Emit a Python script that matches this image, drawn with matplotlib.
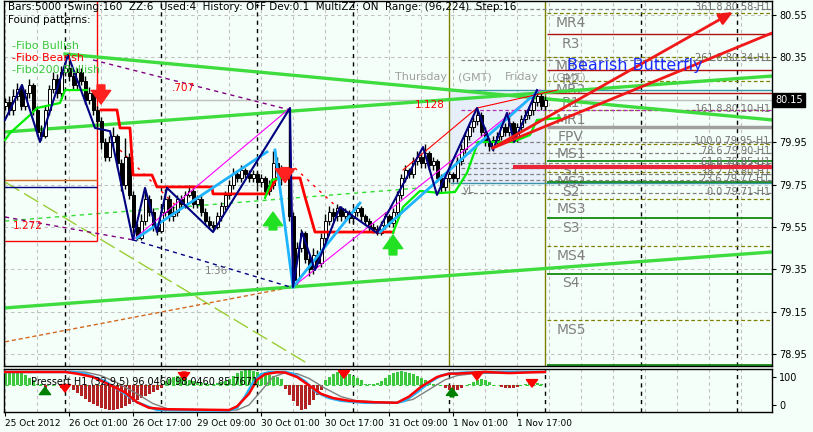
import matplotlib
matplotlib.use("Agg")
import matplotlib.pyplot as plt

# ---------------- data (H1 bars, x = bar index) ----------------
first_open = 80.12
closes = [80.14, 80.10, 80.17, 80.20, 80.12, 80.18, 80.22, 80.10, 80.00, 79.98,
          80.10, 80.20, 80.25, 80.18, 80.28, 80.30, 80.26, 80.22, 80.28, 80.24,
          80.15, 80.18, 80.10, 80.05, 79.95, 79.88, 79.95, 79.98, 79.85, 79.75,
          79.88, 79.70, 79.55, 79.50, 79.58, 79.68, 79.62, 79.55, 79.53, 79.62,
          79.68, 79.60, 79.62, 79.68, 79.66, 79.70, 79.72, 79.66, 79.68, 79.62,
          79.58, 79.56, 79.55, 79.60, 79.65, 79.70, 79.75, 79.80, 79.78, 79.82,
          79.80, 79.78, 79.80, 79.76, 79.78, 79.72, 79.75, 79.85, 79.82, 79.78,
          79.80, 79.60, 79.30, 79.45, 79.52, 79.40, 79.35, 79.42, 79.38, 79.50,
          79.58, 79.62, 79.60, 79.64, 79.60, 79.62, 79.59, 79.62, 79.64, 79.60,
          79.58, 79.55, 79.54, 79.52, 79.56, 79.60, 79.57, 79.62, 79.70, 79.78,
          79.82, 79.80, 79.86, 79.88, 79.85, 79.90, 79.84, 79.86, 79.78, 79.74,
          79.78, 79.80, 79.78, 79.86, 79.92, 79.98, 80.02, 80.05, 80.08, 80.00,
          79.95, 79.93, 79.96, 79.98, 80.02, 80.00, 80.04, 79.97, 80.02, 80.06,
          80.08, 80.10, 80.14, 80.17, 80.12, 80.15]
highs = [80.16, 80.17, 80.20, 80.23, 80.22, 80.20, 80.25, 80.23, 80.12, 80.03,
         80.12, 80.22, 80.28, 80.27, 80.31, 80.33, 80.34, 80.28, 80.30, 80.30,
         80.26, 80.21, 80.19, 80.12, 80.07, 79.97, 79.98, 80.02, 79.99, 79.87,
         79.97, 79.90, 79.72, 79.57, 79.61, 79.73, 79.70, 79.64, 79.57, 79.65,
         79.73, 79.70, 79.65, 79.70, 79.70, 79.72, 79.75, 79.74, 79.70, 79.70,
         79.64, 79.60, 79.58, 79.62, 79.67, 79.72, 79.77, 79.83, 79.82, 79.84,
         79.83, 79.82, 79.82, 79.81, 79.80, 79.79, 79.77, 79.91, 79.88, 79.84,
         79.83, 80.11, 79.62, 79.48, 79.54, 79.53, 79.42, 79.45, 79.44, 79.52,
         79.61, 79.65, 79.64, 79.66, 79.65, 79.64, 79.63, 79.64, 79.66, 79.65,
         79.61, 79.59, 79.57, 79.56, 79.58, 79.62, 79.61, 79.64, 79.72, 79.80,
         79.84, 79.83, 79.88, 79.91, 79.90, 79.94, 79.91, 79.88, 79.87, 79.80,
         79.80, 79.82, 79.81, 79.88, 79.94, 80.00, 80.04, 80.07, 80.11, 80.09,
         80.02, 79.97, 79.98, 80.00, 80.04, 80.04, 80.09, 80.05, 80.04, 80.08,
         80.10, 80.12, 80.16, 80.19, 80.18, 80.17]
lows = [80.10, 80.08, 80.08, 80.15, 80.10, 80.10, 80.16, 80.08, 79.98, 79.96,
        79.97, 80.08, 80.18, 80.16, 80.16, 80.26, 80.24, 80.20, 80.20, 80.22,
        80.13, 80.13, 80.08, 80.02, 79.92, 79.86, 79.86, 79.93, 79.83, 79.72,
        79.73, 79.68, 79.52, 79.49, 79.49, 79.56, 79.60, 79.53, 79.51, 79.52,
        79.60, 79.58, 79.58, 79.60, 79.64, 79.64, 79.69, 79.64, 79.64, 79.60,
        79.56, 79.54, 79.53, 79.54, 79.58, 79.63, 79.68, 79.73, 79.76, 79.76,
        79.78, 79.76, 79.76, 79.74, 79.74, 79.70, 79.70, 79.73, 79.80, 79.75,
        79.76, 79.58, 79.27, 79.28, 79.43, 79.38, 79.32, 79.33, 79.36, 79.36,
        79.48, 79.56, 79.58, 79.58, 79.58, 79.58, 79.57, 79.57, 79.60, 79.58,
        79.56, 79.53, 79.52, 79.51, 79.51, 79.54, 79.55, 79.55, 79.60, 79.68,
        79.76, 79.78, 79.78, 79.84, 79.83, 79.83, 79.82, 79.82, 79.76, 79.71,
        79.72, 79.76, 79.76, 79.76, 79.84, 79.90, 79.96, 80.00, 80.03, 79.98,
        79.93, 79.91, 79.91, 79.94, 79.96, 79.98, 79.98, 79.96, 79.95, 80.00,
        80.04, 80.06, 80.08, 80.12, 80.10, 80.10]
current_price = 80.15

date_ticks = [0, 16, 32, 48, 64, 80, 96, 112, 128]
date_labels = ["25 Oct 2012", "26 Oct 01:00", "26 Oct 17:00", "29 Oct 09:00",
               "30 Oct 01:00", "30 Oct 17:00", "31 Oct 09:00", "1 Nov 01:00",
               "1 Nov 17:00"]
day_seps = [15, 39, 63, 87, 159, 183]
week_seps = [111, 135]
price_ticks = [80.55, 80.35, 79.95, 79.75, 79.55, 79.35, 79.15, 78.95]

# pivot levels
piv_names = ["MR4", "R3", "MR3", "R2", "MR2", "R1", "MR1", "FPV", "MS1", "S1",
             "MS2", "S2", "MS3", "S3", "MS4", "S4", "MS5", "S5"]
piv_prices = [80.56, 80.46, 80.35, 80.29, 80.24, 80.18, 80.10, 80.02, 79.94, 79.86,
              79.81, 79.76, 79.68, 79.59, 79.46, 79.33, 79.11, 78.90]

# fibo projection levels
fib_pct = ["361.8", "261.8", "161.8", "100.0", "78.6", "61.8", "50.0", "38.2", "23.6", "0.0"]
fib_price = [80.58, 80.34, 80.10, 79.95, 79.90, 79.85, 79.83, 79.80, 79.77, 79.71]

# trend channel (green)
chan_down = [(15, 80.366), (191.75, 80.055)]
chan_up = [(0, 79.998), (191.75, 80.262)]
chan_low = [(0, 79.168), (191.75, 79.432)]

# step lines
red_step = [(24, 80.102), (28, 80.102), (28.75, 80.017), (31.25, 80.017), (32, 79.795),
            (36.75, 79.795), (38, 79.739), (51.75, 79.739), (52, 79.706), (65.5, 79.706),
            (68, 79.781), (73.75, 79.781), (75, 79.692), (77.5, 79.526), (97, 79.526)]
lime_a = [(0, 79.96), (1.25, 79.993), (6.25, 80.078), (8, 80.111), (13.75, 80.135),
          (15, 80.196), (20.5, 80.196)]
lime_b = [(65, 79.687), (66.75, 79.772), (71.25, 79.791)]
lime_c = [(97, 79.522), (99.5, 79.644), (103.75, 79.72), (108.75, 79.71), (112.5, 79.715),
          (115.5, 79.805), (118.25, 79.951), (127, 79.951), (131.25, 79.984),
          (133, 80.055), (138.75, 80.064)]

# zigzag / pattern lines
navy_zz = [(0, 80.055), (4.25, 80.22), (8.75, 79.951), (15.75, 80.361), (22.5, 80.017),
           (26.25, 80.002), (32, 79.489), (35, 79.734), (38, 79.526), (40.5, 79.734),
           (52, 79.526), (71.25, 80.111), (72, 79.267), (74.25, 79.526), (77.5, 79.347),
           (83.75, 79.644), (93, 79.522), (104.5, 79.927), (108, 79.701), (118, 80.111),
           (122, 79.913), (125.5, 80.088), (127.25, 79.951), (133, 80.196)]
sky_lines = [[(33, 79.498), (65.5, 79.904)],
             [(67.5, 79.913), (72, 79.267)],
             [(72, 79.267), (88.75, 79.663)],
             [(93.75, 79.526), (133, 80.187)]]
pink_lines = [[(32, 79.489), (71.25, 80.111)],
              [(71.25, 80.111), (72, 79.267)],
              [(72, 79.267), (133.75, 80.196)]]
red_thin = [(99.5, 79.819), (118, 80.111), (138, 80.196)]
purple_dash_a = [(22, 80.338), (71.25, 80.102)]
purple_dash_b = [(0, 79.597), (32, 79.489)]
navy_dash = [(32, 79.489), (71.25, 79.267)]
green_dash = [(0, 79.578), (103.75, 79.734)]
brown_dash = [(0, 79.008), (72, 79.267)]
yellowgreen = [(0, 79.762), (76.25, 78.899)]
red_dots = [[(28.75, 79.913), (42.5, 79.654)], [(72.5, 79.828), (83.75, 79.63)]]
bear_arrow_a = [(122, 79.923), (182, 80.564)]
bear_arrow_b = [(122, 79.923), (191.75, 80.465)]

# box from the pattern scan
box_right = 23
box_bottom = 79.484
box_orange = 79.772
box_navy = 79.739
zone = (111.25, 135.5, 79.758, 80.187)   # x0, x1, low, high
yh_price, yl_price = 80.196, 79.758
red_level = (127, 79.833)

# signal arrows (bar, tail, tip)
sig_down = [(24, 80.22, 80.13), (70, 79.83, 79.76)]
sig_up = [(67, 79.536, 79.62), (97, 79.418, 79.512)]

# oscillator (lower panel)
hist = [43, 46, 50, 46, 43, 36, 25, 18, 4, 4,
        -14, 2, 2, 2, -11, -7, 1, -18, -29, -39,
        -50, -61, -68, -75, -82, -86, -89, -89, -86, -82,
        -75, -68, -61, -54, -46, -39, -32, -25, -18, -11,
        14, 21, 29, 32, 29, 25, 18, 14, 11, 7,
        7, 4, 4, 7, 11, 14, 21, 32, 43, 50,
        54, 54, 50, 46, 43, 39, 36, 32, 29, 21,
        -14, -36, -57, -75, -89, -86, -71, -54, -36, -18,
        18, 29, 39, 46, 50, 46, 39, 32, 25, 18,
        4, 4, 4, 7, 14, 25, 36, 43, 46, 50,
        46, 43, 39, 32, 25, 18, 11, 4, 4, 1,
        -11, -18, -21, -18, -11, 1, 4, 11, 18, 21,
        18, 11, 1, 1, -7, -11, -11, -11, -7, 1,
        4, 7, 11, 7, 4, 1]
hist_base = 71
osc_blue = [(0, 118), (17, 118), (20, 112), (25, 85), (30, 40), (33, 10), (38, -18),
            (56, -20), (58, -10), (60, 30), (62, 80), (64, 110), (66, 117), (70, 118),
            (72, 112), (75, 85), (78, 45), (81, 25), (84, 15), (90, 8), (98, 8),
            (100, 15), (103, 45), (106, 80), (109, 105), (111, 112), (115, 116),
            (125, 118), (135, 118)]
osc_red = [(0, 118), (15, 118), (18, 112), (22, 100), (25, 80), (30, 45), (33, 10),
           (36, -10), (40, -15), (56, -18), (58, -5), (61, 40), (63, 90), (65, 110),
           (68, 117), (70, 116), (73, 100), (76, 70), (79, 40), (82, 25), (86, 15),
           (92, 10), (98, 8), (101, 30), (104, 65), (108, 100), (111, 112), (113, 112),
           (120, 118), (126, 114), (130, 116), (135, 118)]
osc_grey = [(0, 118), (20, 118), (24, 105), (28, 80), (33, 40), (37, 5), (41, -15),
            (58, -18), (61, 0), (64, 50), (67, 100), (70, 115), (73, 112), (76, 95),
            (80, 60), (84, 30), (88, 15), (98, 8), (102, 20), (106, 55), (110, 90),
            (113, 105), (117, 112), (135, 118)]
osc_down = [(15, 71, 46), (44.75, 118, 89), (84.75, 114, 96), (118, 118, 89), (131.75, 82, 64)]
osc_up = [(10, 43, 64), (111.75, 29, 61)]

# ---------------- figure ----------------
BG = "#F5FFFA"
W, H = 813, 432
fig = plt.figure(figsize=(W / 100, H / 100), dpi=100, facecolor=BG)
ax = fig.add_axes([4 / W, 1 - 366 / H, 768 / W, 365 / H], facecolor=BG)
ax2 = fig.add_axes([4 / W, 1 - 412 / H, 768 / W, 43 / H], facecolor=BG)

XMAX = 191.75
ax.set_xlim(-0.25, XMAX)
ax.set_ylim(78.894, 80.616)
ax2.set_xlim(-0.25, XMAX)
ax2.set_ylim(-25, 128.6)


def line(a, pts, **kw):
    a.plot([p[0] for p in pts], [p[1] for p in pts], **kw)


# grid
for k in range(0, 192, 8):
    ax.axvline(k, color="#C0C0C0", lw=0.8, ls=(0, (3, 3)), zorder=0)
    ax2.axvline(k, color="#C0C0C0", lw=0.8, ls=(0, (3, 3)), zorder=0)
for p in price_ticks + [current_price]:
    ax.axhline(p, color="#C0C0C0", lw=0.8, ls=(0, (3, 3)), zorder=0)
ax.axhline(current_price, color="#C0C0C0", lw=1, zorder=0)
for d in day_seps:
    ax.axvline(d, color="black", lw=1, ls=(0, (3, 3)), zorder=1)
for d in day_seps + week_seps:
    ax2.axvline(d, color="black", lw=1, ls=(0, (3, 3)), zorder=1)
for d in week_seps:
    ax.axvline(d, color="#808000", lw=1, zorder=1)

# pattern zone
ax.fill_between([zone[0], zone[1]], zone[2], zone[3], color="#E6EEFA", zorder=0.5, lw=0)
ax.hlines([yh_price, yl_price], zone[0], XMAX, color="#3A93A8", lw=1, zorder=2)
ax.text(114.5, yl_price - 0.012, "yL", color="#808080", fontsize=7.5, va="top", zorder=2)

# pivots
for name, pr in zip(piv_names, piv_prices):
    if name == "FPV":
        ax.hlines(pr, 135.5, XMAX, color="#A0A0A0", lw=2.5, zorder=2)
    elif name.startswith("M"):
        ax.hlines(pr, 135.5, XMAX, color="#808000", lw=0.9, ls=(0, (3, 2)), zorder=2)
    elif name.startswith("R"):
        ax.hlines(pr, 135.5, XMAX, color="#B01010", lw=1, zorder=2)
    else:
        ax.hlines(pr, 135.5, XMAX, color="#008000", lw=1.2, zorder=2)
    ax.annotate(name, (141.5, pr), xytext=(0, -2), textcoords="offset points",
                ha="center", va="top", fontsize=10, color="#808080",
                annotation_clip=True, zorder=2)

# fibo levels
for pct, pr in zip(fib_pct, fib_price):
    c = "#B030B0" if pct == "161.8" else "#808080"
    ax.hlines(pr, 114, XMAX, color=c, lw=0.9, ls=(0, (3, 2)), zorder=2)
    ax.annotate("%s %.2f-H1" % (pct, pr), (191.2, pr), xytext=(0, -2.5),
                textcoords="offset points", ha="right", va="bottom",
                fontsize=7, color="#707070", zorder=2)
ax.hlines(red_level[1], red_level[0], XMAX, color="#E8283A", lw=3, zorder=3)

# scan box
ax.vlines(box_right, box_bottom, 80.616, color="red", lw=1, zorder=2)
ax.hlines(box_bottom, -0.25, box_right, color="red", lw=1, zorder=2)
ax.hlines(box_orange, -0.25, box_right, color="#D2691E", lw=1, zorder=2)
ax.hlines(box_navy, -0.25, box_right, color="#000080", lw=1, zorder=2)

# channel and helper lines
for pts in (chan_down, chan_up, chan_low):
    line(ax, pts, color="#3EDC3E", lw=2.4, zorder=2)
line(ax, yellowgreen, color="#9ACD32", lw=1, ls=(0, (12, 4)), zorder=1)
line(ax, brown_dash, color="#D2691E", lw=1, ls=(0, (3, 2)), zorder=1)
line(ax, green_dash, color="#33DD33", lw=1, ls=(0, (3, 3)), zorder=1)
line(ax, purple_dash_a, color="#800080", lw=1, ls=(0, (3, 3)), zorder=2)
line(ax, purple_dash_b, color="#800080", lw=1, ls=(0, (3, 3)), zorder=2)
line(ax, navy_dash, color="#000080", lw=1, ls=(0, (3, 3)), zorder=2)
for pts in red_dots:
    line(ax, pts, color="red", lw=1, ls=(0, (2, 4)), zorder=2)
ax.text(41.75, 80.206, ".707", color="red", fontsize=7.5, va="center")
ax.text(2, 79.555, "1.272", color="red", fontsize=7.5, va="center")
ax.text(50, 79.342, "1.36", color="#808080", fontsize=7.5, va="center")
ax.text(102.5, 80.125, "1.128", color="red", fontsize=7.5, va="center")

# candles
opens = [first_open] + closes[:-1]
xs = list(range(len(closes)))
ax.vlines(xs, lows, highs, color="black", lw=1, zorder=3)
for x, o, c in zip(xs, opens, closes):
    body = max(abs(c - o), 0.004)
    ax.bar(x, body, bottom=min(o, c), width=0.75, color="black" if c < o else "white",
           edgecolor="black", lw=0.7, zorder=3.1)

# step lines and zigzags on top
line(ax, red_step, color="red", lw=2, zorder=4)
for pts in (lime_a, lime_b, lime_c):
    line(ax, pts, color="#00EE00", lw=1.6, zorder=4)
for pts in pink_lines:
    line(ax, pts, color="#FF00FF", lw=0.8, zorder=4)
for pts in sky_lines:
    line(ax, pts, color="#1EB4FF", lw=2, zorder=4)
line(ax, navy_zz, color="#000080", lw=1.5, zorder=4.2)
line(ax, red_thin, color="red", lw=0.8, zorder=4)

# bearish projection arrows
ax.annotate("", xy=bear_arrow_a[1], xytext=bear_arrow_a[0],
            arrowprops=dict(arrowstyle="-|>,head_length=0.8,head_width=0.35",
                            color="#F01818", lw=2, shrinkA=0, shrinkB=0), zorder=5)
line(ax, bear_arrow_b, color="#F01818", lw=2, zorder=5)

for x, t, tip in sig_down:
    ax.annotate("", xy=(x, tip), xytext=(x, t),
                arrowprops=dict(arrowstyle="simple,head_length=0.7,head_width=1.0,tail_width=0.4",
                                color="#FF2020", shrinkA=0, shrinkB=0, mutation_scale=14), zorder=5)
for x, t, tip in sig_up:
    ax.annotate("", xy=(x, tip), xytext=(x, t),
                arrowprops=dict(arrowstyle="simple,head_length=0.7,head_width=1.0,tail_width=0.4",
                                color="#22E022", shrinkA=0, shrinkB=0, mutation_scale=14), zorder=5)

# texts
ax.text(97.5, 80.257, "Thursday", color="#A0A0A0", fontsize=8, va="center", zorder=2)
ax.text(113.25, 80.257, "(GMT)", color="#A0A0A0", fontsize=8, va="center", zorder=2)
ax.text(125, 80.257, "Friday", color="#A0A0A0", fontsize=8, va="center", zorder=2)
ax.text(136.75, 80.257, "(GMT)", color="#A0A0A0", fontsize=8, va="center", zorder=1.5)
ax.text(140.5, 80.31, "Bearish Butterfly", color="#1A2BFF", fontsize=11.5, va="center", zorder=6)

fig.text(8 / W, 1 - 7 / H, "Bars:5000  Swing:160  ZZ:6  Used:4  History: OFF Dev:0.1  "
         "MultiZZ: ON  Range: (96,224)  Step:16", fontsize=7.5, va="center")
fig.text(8 / W, 1 - 20 / H, "Found patterns:", fontsize=7.5, va="center")
fig.text(12 / W, 1 - 46 / H, "-Fibo Bullish", fontsize=8, color="#3CC83C", va="center")
fig.text(12 / W, 1 - 58 / H, "-Fibo Bearish", fontsize=8, color="red", va="center")
fig.text(12 / W, 1 - 70 / H, "-Fibo200 Bullish", fontsize=8, color="#3CC83C", va="center")

# price axis
ax.yaxis.tick_right()
ax.set_yticks(price_ticks)
ax.set_yticklabels(["%.2f" % p for p in price_ticks])
ax.tick_params(axis="y", direction="out", length=3, labelsize=7, pad=2)
ax.set_xticks([])
ax.text(1.004, current_price, "%.2f" % current_price, transform=ax.get_yaxis_transform(),
        color="white", fontsize=7, va="center", ha="left",
        bbox=dict(boxstyle="square,pad=0.2", fc="black", ec="black"))

# ---------------- oscillator ----------------
hx = list(range(len(hist)))
ax2.hlines(hist_base, 0, 135, color="#33CC33", lw=0.8, ls=(0, (3, 3)), zorder=1)
ax2.bar(hx, hist, bottom=hist_base, width=0.75,
        color=["#3CC83C" if v > 0 else "#B22222" for v in hist], zorder=2)
line(ax2, osc_grey, color="#808080", lw=1, zorder=3)
line(ax2, osc_blue, color="#1EB4FF", lw=1.8, zorder=3)
line(ax2, osc_red, color="red", lw=1.8, zorder=3.1)
for x, t, tip in osc_down:
    ax2.annotate("", xy=(x, tip), xytext=(x, t),
                 arrowprops=dict(arrowstyle="simple,head_length=0.6,head_width=0.9,tail_width=0.3",
                                 color="red", shrinkA=0, shrinkB=0, mutation_scale=9), zorder=5)
for x, t, tip in osc_up:
    ax2.annotate("", xy=(x, tip), xytext=(x, t),
                 arrowprops=dict(arrowstyle="simple,head_length=0.6,head_width=0.9,tail_width=0.3",
                                 color="#008000", shrinkA=0, shrinkB=0, mutation_scale=9), zorder=5)
ax2.text(0.035, 0.72, "Pressert H1 (32,9,5) 96.0460 98.0460 85.7671", transform=ax2.transAxes,
         fontsize=7, va="center", zorder=6)

ax2.yaxis.tick_right()
ax2.set_yticks([100, 0])
ax2.set_yticklabels(["100", "0"])
ax2.tick_params(axis="y", direction="out", length=3, labelsize=7, pad=2)
ax2.set_xticks(date_ticks)
ax2.set_xticklabels(date_labels, ha="left")
ax2.tick_params(axis="x", direction="out", length=3, labelsize=6.5, pad=2)

for a in (ax, ax2):
    for s in a.spines.values():
        s.set_color("black")
        s.set_linewidth(1)

fig.savefig("out.png", dpi=100, facecolor=BG)
